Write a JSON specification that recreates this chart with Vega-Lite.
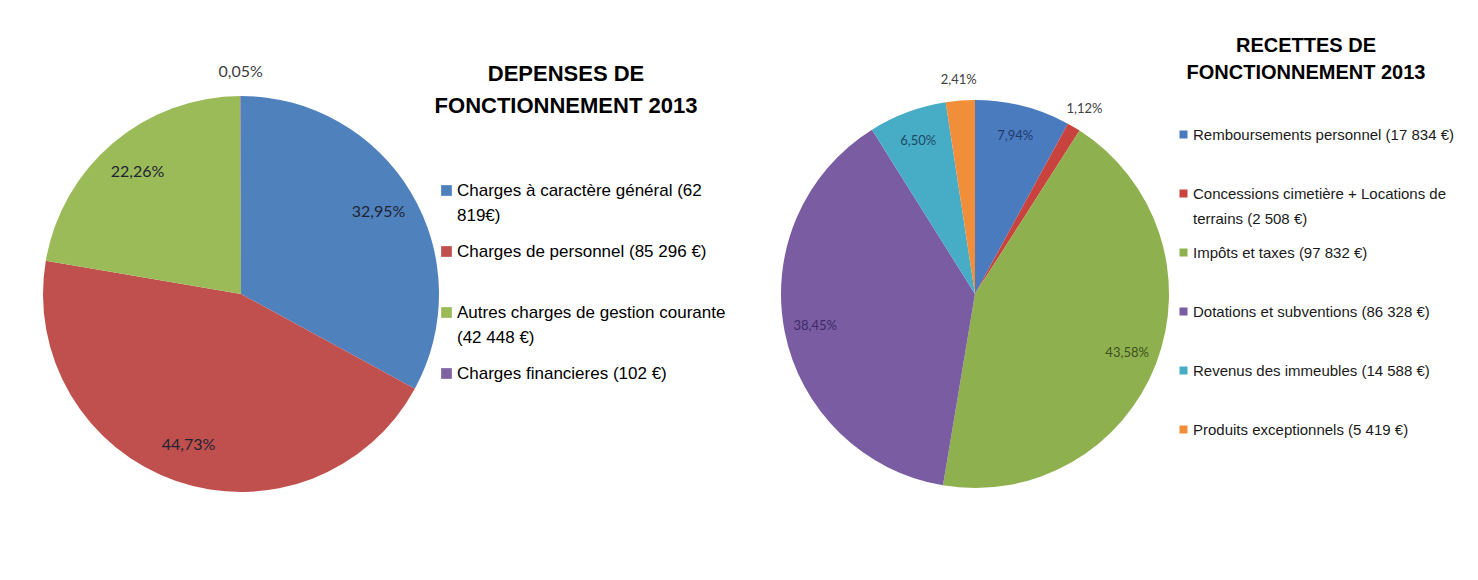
{
  "$schema": "https://vega.github.io/schema/vega-lite/v6.json",
  "padding": {"top": 4, "left": 0, "right": 0, "bottom": 0},
  "background": "white",
  "config": {
    "locale": {"number": {"decimal": ",", "thousands": " ", "grouping": [3], "currency": ["", " €"]}},
    "view": {"stroke": null},
    "concat": {"spacing": 300},
    "style": {"guide-label": {"lineHeight": 25}}
  },
  "datasets": {
    "dep": [
      {"cat": "Charges à caractère général (62 819€)", "amount": 62819, "pct": 0.3295, "n": 1},
      {"cat": "Charges de personnel (85 296 €)", "amount": 85296, "pct": 0.4473, "n": 2},
      {"cat": "Autres charges de gestion courante (42 448 €)", "amount": 42448, "pct": 0.2226, "n": 3},
      {"cat": "Charges financieres (102 €)", "amount": 102, "pct": 0.0005, "n": 4}
    ],
    "rec": [
      {"cat": "Remboursements personnel (17 834 €)", "amount": 17834, "pct": 0.0794, "n": 1},
      {"cat": "Concessions cimetière + Locations de terrains (2 508 €)", "amount": 2508, "pct": 0.0112, "n": 2},
      {"cat": "Impôts et taxes (97 832 €)", "amount": 97832, "pct": 0.4358, "n": 3},
      {"cat": "Dotations et subventions (86 328 €)", "amount": 86328, "pct": 0.3845, "n": 4},
      {"cat": "Revenus des immeubles (14 588 €)", "amount": 14588, "pct": 0.065, "n": 5},
      {"cat": "Produits exceptionnels (5 419 €)", "amount": 5419, "pct": 0.0241, "n": 6}
    ]
  },
  "bounds": "flush",
  "hconcat": [
    {
      "width": 482,
      "height": 580,
      "data": {"name": "dep"},
      "title": {
        "text": ["DEPENSES DE", "FONCTIONNEMENT 2013"],
        "anchor": "start", "frame": "group", "align": "center",
        "dx": 566, "dy": 114, "offset": 0,
        "font": "Liberation Sans", "fontSize": 22, "fontWeight": "bold", "color": "#000000", "lineHeight": 32
      },
      "encoding": {
        "theta": {"field": "amount", "type": "quantitative", "stack": true},
        "order": {"field": "n", "type": "quantitative"}
      },
      "layer": [
        {
          "mark": {"type": "arc", "outerRadius": 198},
          "encoding": {
            "color": {
              "field": "cat", "type": "nominal",
              "scale": {
                "domain": ["Charges à caractère général (62 819€)", "Charges de personnel (85 296 €)", "Autres charges de gestion courante (42 448 €)", "Charges financieres (102 €)"],
                "range": ["#4F81BD", "#C0504D", "#9BBB59", "#8064A2"]
              },
              "legend": {
                "orient": "none", "legendX": 438, "legendY": 178, "title": null,
                "symbolType": "square", "symbolSize": 115, "symbolStrokeWidth": 0,
                "labelFont": "Liberation Sans", "labelFontSize": 17, "labelColor": "#000000",
                "labelLimit": 400, "labelOffset": 2, "rowPadding": 18,
                "labelExpr": "datum.label == 'Charges à caractère général (62 819€)' ? ['Charges à caractère général (62', '819€)'] : datum.label == 'Autres charges de gestion courante (42 448 €)' ? ['Autres charges de gestion courante', '(42 448 €)'] : [datum.label, '']"
              }
            }
          }
        },
        {
          "mark": {"type": "text", "radius": 160, "font": "Lato", "fontSize": 16, "fill": "#1e2433"},
          "encoding": {
            "text": {"condition": {"test": "datum.pct >= 0.01", "field": "pct", "type": "quantitative", "format": ".2%"}, "value": ""}
          }
        },
        {
          "mark": {"type": "text", "radius": 222, "font": "Lato", "fontSize": 16, "fill": "#404040"},
          "encoding": {
            "text": {"condition": {"test": "datum.pct < 0.01", "field": "pct", "type": "quantitative", "format": ".2%"}, "value": ""}
          }
        }
      ]
    },
    {
      "width": 386,
      "height": 580,
      "data": {"name": "rec"},
      "title": {
        "text": ["RECETTES DE", "FONCTIONNEMENT 2013"],
        "anchor": "start", "frame": "group", "align": "center",
        "dx": 524, "dy": 79, "offset": 0,
        "font": "Liberation Sans", "fontSize": 20, "fontWeight": "bold", "color": "#000000", "lineHeight": 27
      },
      "encoding": {
        "theta": {"field": "amount", "type": "quantitative", "stack": true},
        "order": {"field": "n", "type": "quantitative"}
      },
      "layer": [
        {
          "mark": {"type": "arc", "outerRadius": 194},
          "encoding": {
            "color": {
              "field": "cat", "type": "nominal",
              "scale": {
                "domain": ["Remboursements personnel (17 834 €)", "Concessions cimetière + Locations de terrains (2 508 €)", "Impôts et taxes (97 832 €)", "Dotations et subventions (86 328 €)", "Revenus des immeubles (14 588 €)", "Produits exceptionnels (5 419 €)"],
                "range": ["#4A7BBF", "#C8423E", "#8FB04E", "#7A5CA3", "#47ACC6", "#F08E3A"]
              },
              "legend": {
                "orient": "none", "legendX": 394, "legendY": 123, "title": null,
                "symbolType": "square", "symbolSize": 64, "symbolStrokeWidth": 0,
                "labelFont": "Liberation Sans", "labelFontSize": 15, "labelColor": "#1a1a1a",
                "labelLimit": 400, "labelOffset": 2, "rowPadding": 18,
                "labelExpr": "datum.label == 'Concessions cimetière + Locations de terrains (2 508 €)' ? ['Concessions cimetière + Locations de', 'terrains (2 508 €)'] : [datum.label, '']"
              }
            }
          }
        },
        {
          "mark": {"type": "text", "radius": 163, "font": "Lato", "fontSize": 13},
          "encoding": {
            "text": {"condition": {"test": "datum.pct >= 0.03", "field": "pct", "type": "quantitative", "format": ".2%"}, "value": ""},
            "color": {
              "field": "cat", "type": "nominal", "legend": null,
              "scale": {
                "domain": ["Remboursements personnel (17 834 €)", "Concessions cimetière + Locations de terrains (2 508 €)", "Impôts et taxes (97 832 €)", "Dotations et subventions (86 328 €)", "Revenus des immeubles (14 588 €)", "Produits exceptionnels (5 419 €)"],
                "range": ["#213a6e", "#4a1a1a", "#3d5220", "#3b2a66", "#1d4a63", "#404040"]
              }
            }
          }
        },
        {
          "mark": {"type": "text", "radius": 215, "font": "Lato", "fontSize": 13, "fill": "#404040"},
          "encoding": {
            "text": {"condition": {"test": "datum.pct < 0.03", "field": "pct", "type": "quantitative", "format": ".2%"}, "value": ""}
          }
        }
      ],
      "resolve": {"scale": {"color": "independent"}, "legend": {"color": "independent"}}
    }
  ],
  "resolve": {"scale": {"color": "independent", "theta": "independent"}, "legend": {"color": "independent"}}
}
